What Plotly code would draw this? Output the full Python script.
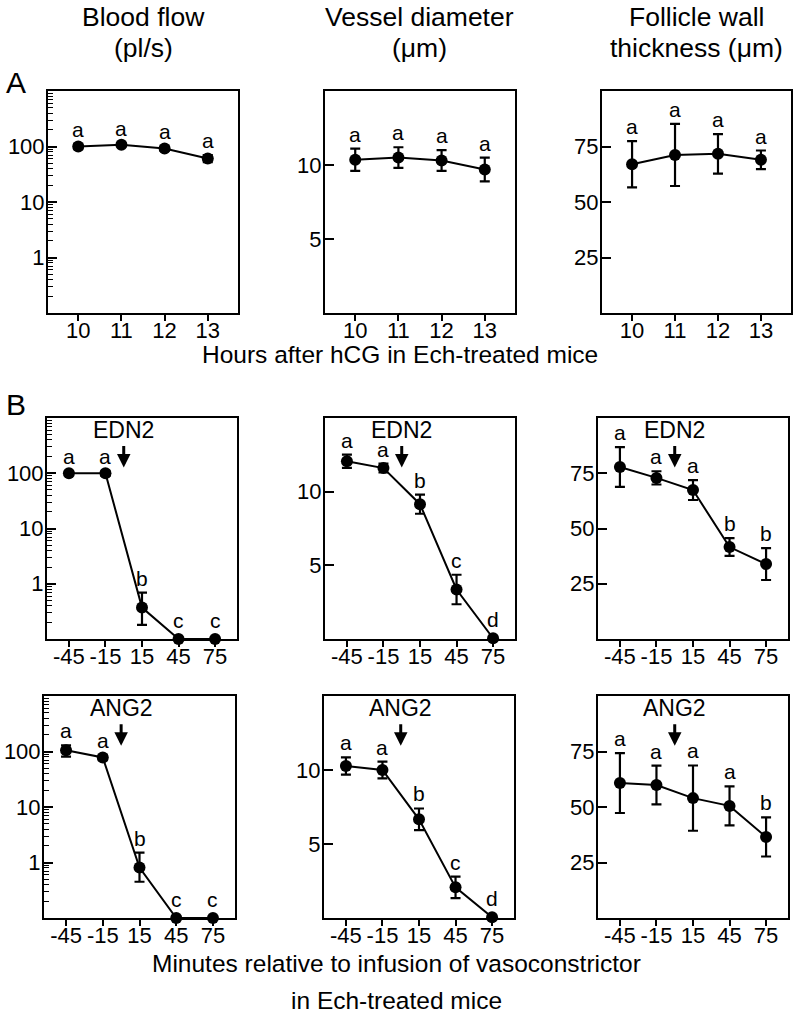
import math
import plotly.graph_objects as go

W, H = 793, 1017
FONT = "Liberation Sans, Arial, sans-serif"

# ---------------- data ----------------
hours = [10, 11, 12, 13]
minutes = [-45, -15, 15, 45, 75]

# Panel A (hours after hCG)
a_flow = [100, 108, 92, 61]
a_flow_err = [10, 8, 9, 9]
a_diam = [10.35, 10.5, 10.3, 9.7]
a_diam_err = [0.75, 0.7, 0.7, 0.8]
a_wall = [67.0, 71.2, 71.7, 69.0]
a_wall_err = [10.4, 14.0, 8.9, 4.2]
a_letters = ["a", "a", "a", "a"]

# Panel B, EDN2
edn_flow = [100, 100, 0.37, 0.1, 0.1]
edn_flow_up = [8, 10, 0.32, 0, 0]
edn_flow_dn = [8, 10, 0.19, 0, 0]
edn_diam = [12.07, 11.6, 9.15, 3.36, 0.05]
edn_diam_err = [0.45, 0.3, 0.65, 1.0, 0]
edn_wall = [77.8, 72.9, 67.4, 41.6, 33.9]
edn_wall_err = [9.0, 3.0, 4.5, 4.0, 7.2]
edn_letters_flow = ["a", "a", "b", "c", "c"]
edn_letters_diam = ["a", "a", "b", "c", "d"]
edn_letters_wall = ["a", "a", "a", "b", "b"]

# Panel B, ANG2
ang_flow = [105, 78, 0.81, 0.1, 0.1]
ang_flow_up = [24, 8, 0.7, 0, 0]
ang_flow_dn = [24, 8, 0.36, 0, 0]
ang_diam = [10.27, 10.0, 6.67, 2.07, 0.05]
ang_diam_err = [0.58, 0.56, 0.73, 0.73, 0]
ang_wall = [60.8, 59.9, 54.0, 50.5, 36.5]
ang_wall_err = [13.5, 8.7, 14.7, 8.8, 8.8]
ang_letters_flow = ["a", "a", "b", "c", "c"]
ang_letters_diam = ["a", "a", "b", "c", "d"]
ang_letters_wall = ["a", "a", "a", "a", "b"]

col_titles = [["Blood flow", "(pl/s)"], ["Vessel diameter", "(μm)"], ["Follicle wall", "thickness (μm)"]]
infusion_time = 0

# ---------------- layout geometry (screen pixels) ----------------
rows_y = [(91, 313), (418, 639), (696, 918)]
cols_x = [
    [(48, 238), (325, 515), (602, 791)],
    [(47, 237), (325, 515), (598, 788)],
    [(44, 235), (324, 514), (598, 788)],
]


def fx(px):
    return px / W


def fy(py):
    return 1 - py / H


fig = go.Figure()
layout = dict(
    width=W, height=H, margin=dict(l=0, r=0, t=0, b=0, pad=0),
    paper_bgcolor="white", plot_bgcolor="white", showlegend=False,
    font=dict(family=FONT, color="black"),
)
annotations = []

kinds = ["flow", "diam", "wall"]
panels = [
    [(hours, a_flow, a_flow_err, a_flow_err, a_letters),
     (hours, a_diam, a_diam_err, a_diam_err, a_letters),
     (hours, a_wall, a_wall_err, a_wall_err, a_letters)],
    [(minutes, edn_flow, edn_flow_up, edn_flow_dn, edn_letters_flow),
     (minutes, edn_diam, edn_diam_err, edn_diam_err, edn_letters_diam),
     (minutes, edn_wall, edn_wall_err, edn_wall_err, edn_letters_wall)],
    [(minutes, ang_flow, ang_flow_up, ang_flow_dn, ang_letters_flow),
     (minutes, ang_diam, ang_diam_err, ang_diam_err, ang_letters_diam),
     (minutes, ang_wall, ang_wall_err, ang_wall_err, ang_letters_wall)],
]
drug = [None, "EDN2", "ANG2"]

minor_log = [k * 10 ** d for d in range(-1, 3) for k in range(2, 10)]

idx = 0
for r in range(3):
    y0, y1 = rows_y[r]
    for c in range(3):
        idx += 1
        xs, ys, up, dn, letters = panels[r][c]
        xa = "x" if idx == 1 else f"x{idx}"
        ya = "y" if idx == 1 else f"y{idx}"
        xk = "xaxis" if idx == 1 else f"xaxis{idx}"
        yk = "yaxis" if idx == 1 else f"yaxis{idx}"
        fig.add_trace(go.Scatter(
            x=xs, y=ys, xaxis=xa, yaxis=ya, mode="lines+markers",
            line=dict(color="black", width=2),
            marker=dict(color="black", size=12),
            error_y=dict(type="data", array=up, arrayminus=dn, visible=True,
                         color="black", thickness=2.2, width=5),
            cliponaxis=False,
        ))
        x0p, x1p = cols_x[r][c]
        if r == 0:
            xr = [9.3, 13.7]
            tv = hours
        else:
            xr = [-63, 93]
            tv = minutes
        layout[xk] = dict(
            domain=[fx(x0p), fx(x1p)], range=xr, anchor=ya,
            tickvals=tv, ticktext=[str(v) for v in tv],
            ticks="outside", ticklen=6, tickwidth=2, tickcolor="black",
            ticklabelstandoff=-9,
            showline=True, linecolor="black", linewidth=2, mirror=True,
            showgrid=False, zeroline=False,
            tickfont=dict(size=22, family=FONT, color="black"),
        )
        ydict = dict(
            domain=[fy(y1), fy(y0)], anchor=xa,
            ticks="inside", ticklen=9, tickwidth=2, tickcolor="black",
            ticklabelstandoff=-3,
            showline=True, linecolor="black", linewidth=2, mirror=True,
            showgrid=False, zeroline=False,
            tickfont=dict(size=22, family=FONT, color="black"),
        )
        kind = kinds[c]
        if kind == "flow":
            ydict.update(type="log", range=[-1, 3], tickvals=[1, 10, 100],
                         ticktext=["1", "10", "100"],
                         minor=dict(tickvals=minor_log, ticks="inside", ticklen=5,
                                    tickwidth=1, tickcolor="black", showgrid=False))
        elif kind == "diam":
            ydict.update(range=[0, 15], tickvals=[5, 10], ticktext=["5", "10"])
        else:
            ydict.update(range=[0, 100], tickvals=[25, 50, 75], ticktext=["25", "50", "75"])
        layout[yk] = ydict

        # significance letters
        for xi, yi, ui, li in zip(xs, ys, up, letters):
            top = yi + ui
            yv = math.log10(top) if kind == "flow" else top
            extra = 4 if ui == 0 else 0
            annotations.append(dict(
                x=xi, y=yv, xref=xa, yref=ya, text=li, showarrow=False,
                xanchor="center", yanchor="bottom", yshift=1 + extra,
                font=dict(size=21, family=FONT, color="black"),
            ))

        # drug labels + arrows
        if drug[r]:
            annotations.append(dict(
                x=infusion_time, y=0.945, xref=xa, yref=f"{ya} domain",
                text=drug[r], showarrow=False, xanchor="center", yanchor="middle",
                font=dict(size=23, family=FONT, color="black"),
            ))
            annotations.append(dict(
                x=infusion_time, y=0.776, xref=xa, yref=f"{ya} domain",
                text="", showarrow=True, ax=0, ay=-23,
                arrowhead=2, arrowsize=0.9, arrowwidth=3, arrowcolor="black",
            ))


def paper_text(px, py, text, size):
    annotations.append(dict(x=fx(px), y=fy(py), xref="paper", yref="paper", text=text,
                            showarrow=False, xanchor="center", yanchor="middle",
                            font=dict(size=size, family=FONT, color="black")))


# column titles
col_centers = [143, 420, 696]
for cc, (t1, t2) in zip(col_centers, col_titles):
    paper_text(cc, 17, t1, 26.5)
    paper_text(cc, 48, t2, 26.5)

# panel letters
paper_text(16, 83, "A", 30)
paper_text(16, 405, "B", 30)

# axis labels
paper_text(400, 354, "Hours after hCG in Ech-treated mice", 24.5)
paper_text(396, 963, "Minutes relative to infusion of vasoconstrictor", 24.5)
paper_text(396, 1000, "in Ech-treated mice", 24.5)

layout["annotations"] = annotations
fig.update_layout(**layout)
fig.write_html(
    "out.html",
    config={"displayModeBar": False, "staticPlot": True},
    post_script="document.body.style.margin='0px';document.body.style.overflow='hidden';",
)
